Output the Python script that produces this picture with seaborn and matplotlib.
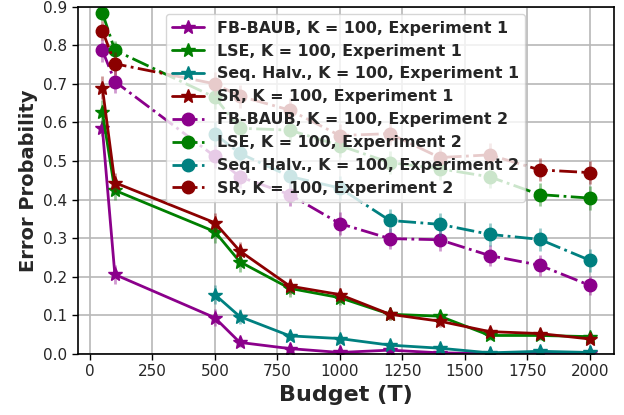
import numpy as np
import pandas as pd
import matplotlib
matplotlib.use("Agg")
import matplotlib.pyplot as plt
import seaborn as sns

nan = np.nan
budget = [50, 100, 500, 600, 800, 1000, 1200, 1400, 1600, 1800, 2000]

fb_exp1 = [0.585, 0.206, 0.094, 0.030, 0.014, 0.004, 0.010, 0.003, 0.001, 0.003, 0.002]
lse_exp1 = [0.627, 0.424, 0.317, 0.239, 0.170, 0.146, 0.103, 0.098, 0.048, 0.048, 0.045]
sh_exp1 = [nan, nan, 0.154, 0.097, 0.047, 0.040, 0.023, 0.015, 0.003, 0.007, 0.004]
sr_exp1 = [0.690, 0.444, 0.340, 0.267, 0.176, 0.154, 0.103, 0.085, 0.058, 0.053, 0.039]

fb_exp2 = [0.787, 0.706, 0.512, 0.459, 0.413, 0.338, 0.299, 0.296, 0.255, 0.230, 0.178]
lse_exp2 = [0.884, 0.787, 0.665, 0.585, 0.580, 0.540, 0.496, 0.480, 0.459, 0.413, 0.404]
sh_exp2 = [nan, nan, 0.570, 0.520, 0.460, 0.430, 0.346, 0.336, 0.310, 0.297, 0.243]
sr_exp2 = [0.838, 0.752, 0.700, 0.668, 0.632, 0.566, 0.571, 0.509, 0.516, 0.477, 0.470]

fb_exp1_err = [0.02, 0.025, 0.022, 0.012, 0.008, 0.004, 0.006, 0.003, 0.002, 0.003, 0.002]
lse_exp1_err = [0.03, 0.025, 0.03, 0.027, 0.022, 0.02, 0.015, 0.016, 0.012, 0.012, 0.012]
sh_exp1_err = [nan, nan, 0.025, 0.02, 0.012, 0.012, 0.008, 0.007, 0.003, 0.005, 0.003]
sr_exp1_err = [0.03, 0.025, 0.025, 0.022, 0.02, 0.018, 0.015, 0.014, 0.012, 0.012, 0.01]
fb_exp2_err = [0.03, 0.03, 0.03, 0.03, 0.03, 0.03, 0.028, 0.028, 0.027, 0.027, 0.025]
lse_exp2_err = [0.02, 0.025, 0.03, 0.03, 0.03, 0.03, 0.03, 0.03, 0.03, 0.03, 0.03]
sh_exp2_err = [nan, nan, 0.03, 0.03, 0.03, 0.03, 0.03, 0.03, 0.03, 0.03, 0.03]
sr_exp2_err = [0.025, 0.03, 0.03, 0.03, 0.03, 0.03, 0.03, 0.03, 0.03, 0.03, 0.03]

algorithms = ["FB-BAUB", "LSE", "Seq. Halv.", "SR"]
colors = {"FB-BAUB": "#8b008b", "LSE": "#007f00", "Seq. Halv.": "#008080", "SR": "#8b0000"}

series = [
    ("FB-BAUB", 1, fb_exp1, fb_exp1_err),
    ("LSE", 1, lse_exp1, lse_exp1_err),
    ("Seq. Halv.", 1, sh_exp1, sh_exp1_err),
    ("SR", 1, sr_exp1, sr_exp1_err),
    ("FB-BAUB", 2, fb_exp2, fb_exp2_err),
    ("LSE", 2, lse_exp2, lse_exp2_err),
    ("Seq. Halv.", 2, sh_exp2, sh_exp2_err),
    ("SR", 2, sr_exp2, sr_exp2_err),
]

sns.set_style("ticks")
plt.rcParams["font.family"] = ["DejaVu Sans"]

fig = plt.figure(figsize=(6.24, 4.15), dpi=100)
ax = fig.add_axes([0.125, 0.147, 0.859, 0.837])

for alg, exp, vals, errs in series:
    df = pd.DataFrame({"Budget": budget, "Err": vals, "E": errs}).dropna()
    label = f"{alg}, K = 100, Experiment {exp}"
    ls = "-" if exp == 1 else "-."
    mk = "*" if exp == 1 else "o"
    ms = 10 if exp == 1 else 9
    ax.errorbar(df["Budget"], df["Err"], yerr=df["E"], fmt="none",
                ecolor=colors[alg], elinewidth=2, alpha=0.4, capsize=0)
    sns.lineplot(data=df, x="Budget", y="Err", ax=ax, color=colors[alg],
                 linestyle=ls, marker=mk, markersize=ms, markeredgewidth=1,
                 markeredgecolor=colors[alg], linewidth=2, label=label,
                 errorbar=None)

ax.set_ylim(0, 0.9)
ax.set_xlim(-47.5, 2097.5)
ax.set_xticks([0, 250, 500, 750, 1000, 1250, 1500, 1750, 2000])
ax.set_yticks(np.arange(0, 0.91, 0.1))
ax.grid(True, color="#b8b8b8", linewidth=1.2)
ax.tick_params(labelsize=11, length=4, width=1, color="black")
for s in ax.spines.values():
    s.set_color("black")
    s.set_linewidth(1.2)

ax.set_xlabel("Budget (T)", fontsize=16, fontweight="bold")
ax.set_ylabel("Error Probability", fontsize=14, fontweight="bold")

leg = ax.legend(loc="upper left", bbox_to_anchor=(0.164, 0.978), borderaxespad=0,
                prop={"weight": "bold", "size": 11.4}, labelspacing=0.5,
                framealpha=0.8, fancybox=True)

fig.savefig("out.png", dpi=100)
